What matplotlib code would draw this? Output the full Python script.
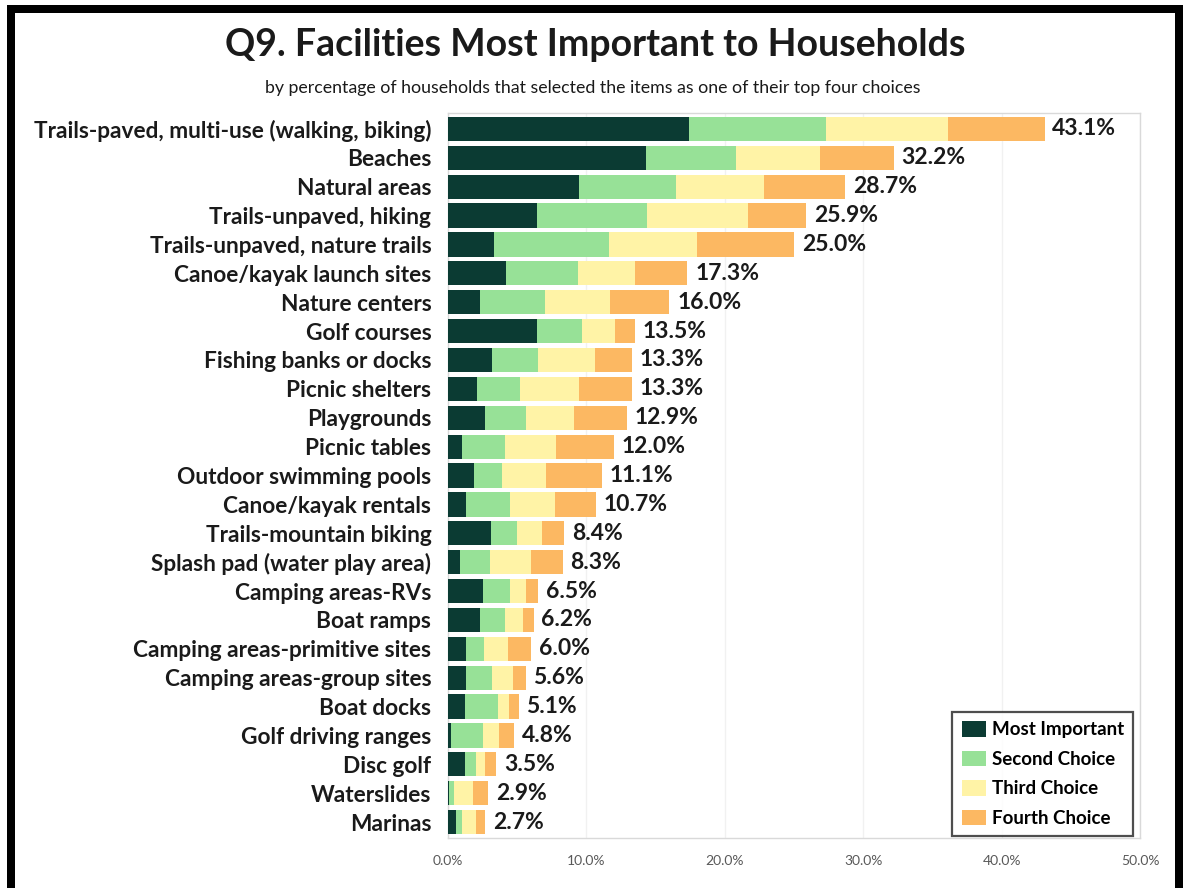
import matplotlib

matplotlib.use("Agg")
import matplotlib.pyplot as plt
from matplotlib.patches import Rectangle
import numpy as np

plt.rcParams["font.family"] = ["Lato", "DejaVu Sans"]

CATEGORIES = [
    "Trails-paved, multi-use (walking, biking)",
    "Beaches",
    "Natural areas",
    "Trails-unpaved, hiking",
    "Trails-unpaved, nature trails",
    "Canoe/kayak launch sites",
    "Nature centers",
    "Golf courses",
    "Fishing banks or docks",
    "Picnic shelters",
    "Playgrounds",
    "Picnic tables",
    "Outdoor swimming pools",
    "Canoe/kayak rentals",
    "Trails-mountain biking",
    "Splash pad (water play area)",
    "Camping areas-RVs",
    "Boat ramps",
    "Camping areas-primitive sites",
    "Camping areas-group sites",
    "Boat docks",
    "Golf driving ranges",
    "Disc golf",
    "Waterslides",
    "Marinas",
]
MOST = [17.4, 14.3, 9.5, 6.4, 3.3, 4.2, 2.3, 6.4, 3.2, 2.1, 2.7, 1.0, 1.9,
        1.3, 3.1, 0.9, 2.5, 2.3, 1.3, 1.3, 1.2, 0.2, 1.2, 0.1, 0.6]
SECOND = [9.9, 6.5, 7.0, 8.0, 8.3, 5.2, 4.7, 3.3, 3.3, 3.1, 2.9, 3.1, 2.0,
          3.2, 1.9, 2.1, 2.0, 1.8, 1.3, 1.9, 2.4, 2.3, 0.8, 0.3, 0.4]
THIRD = [8.8, 6.1, 6.3, 7.3, 6.4, 4.1, 4.7, 2.4, 4.1, 4.3, 3.5, 3.7, 3.2,
         3.2, 1.8, 3.0, 1.1, 1.3, 1.7, 1.5, 0.8, 1.2, 0.7, 1.4, 1.0]
FOURTH = [7.0, 5.3, 5.9, 4.2, 7.0, 3.8, 4.3, 1.4, 2.7, 3.8, 3.8, 4.2, 4.0,
          3.0, 1.6, 2.3, 0.9, 0.8, 1.7, 0.9, 0.7, 1.1, 0.8, 1.1, 0.7]
TOTALS = [43.1, 32.2, 28.7, 25.9, 25.0, 17.3, 16.0, 13.5, 13.3, 13.3, 12.9,
          12.0, 11.1, 10.7, 8.4, 8.3, 6.5, 6.2, 6.0, 5.6, 5.1, 4.8, 3.5, 2.9, 2.7]
SERIES = ["Most Important", "Second Choice", "Third Choice", "Fourth Choice"]
COLORS = ["#0b3b33", "#97e197", "#fff3a6", "#fcb862"]
XTICKS = [0, 10, 20, 30, 40, 50]

fig = plt.figure(figsize=(11.83, 8.88), dpi=100)
ax = fig.add_axes([0.3787, 0.0563, 0.5850, 0.8164])

y = np.arange(len(CATEGORIES))
left = np.zeros(len(CATEGORIES))
for vals, name, col in zip([MOST, SECOND, THIRD, FOURTH], SERIES, COLORS):
    ax.barh(y, vals, left=left, height=0.84, color=col, label=name, zorder=3)
    left += np.array(vals)

for yi, t in zip(y, TOTALS):
    ax.text(t + 0.55, yi, f"{t:.1f}%", ha="left", va="center",
            fontsize=16.5, fontweight="bold", color="#1a1a1a", zorder=4)

ax.set_xlim(0, 50)
ax.set_ylim(len(CATEGORIES) - 0.45, -0.55)
ax.set_xticks(XTICKS)
ax.set_xticklabels([f"{v:.1f}%" for v in XTICKS], fontsize=10, color="#595959")
ax.set_yticks(y)
ax.set_yticklabels(CATEGORIES, fontsize=16.3, fontweight="bold", color="#1a1a1a")
ax.tick_params(axis="both", length=0)
ax.tick_params(axis="y", pad=12)
ax.tick_params(axis="x", pad=12)
ax.grid(axis="x", color="#f1f1f1", linewidth=1, zorder=0)
for s in ax.spines.values():
    s.set_color("#d9d9d9")
    s.set_linewidth(1.0)

leg = ax.legend(loc="lower right", bbox_to_anchor=(0.993, 0.0),
                prop={"weight": "bold", "size": 13.5}, frameon=True, fancybox=False,
                handlelength=1.3, handleheight=0.9, handletextpad=0.3,
                labelspacing=0.65, borderpad=0.5, borderaxespad=0.1)
leg.get_frame().set_edgecolor("#222222")
leg.get_frame().set_linewidth(1.6)

fig.text(0.503, 0.949, "Q9. Facilities Most Important to Households",
         ha="center", va="center", fontsize=27, fontweight="bold", color="#1a1a1a")
fig.text(0.501, 0.901,
         "by percentage of households that selected the items as one of their top four choices",
         ha="center", va="center", fontsize=12.8, color="#1a1a1a")

# black frame around the slide (left, top, right)
W, H = 1183, 888
for x0, y0, w, h in [(7, 0, 8, 883), (7, 875, 1176, 8), (1175, 0, 8, 883)]:
    fig.add_artist(Rectangle((x0 / W, y0 / H), w / W, h / H, transform=fig.transFigure,
                             facecolor="black", edgecolor="none"))

fig.savefig("out.png", dpi=100, facecolor="white")
